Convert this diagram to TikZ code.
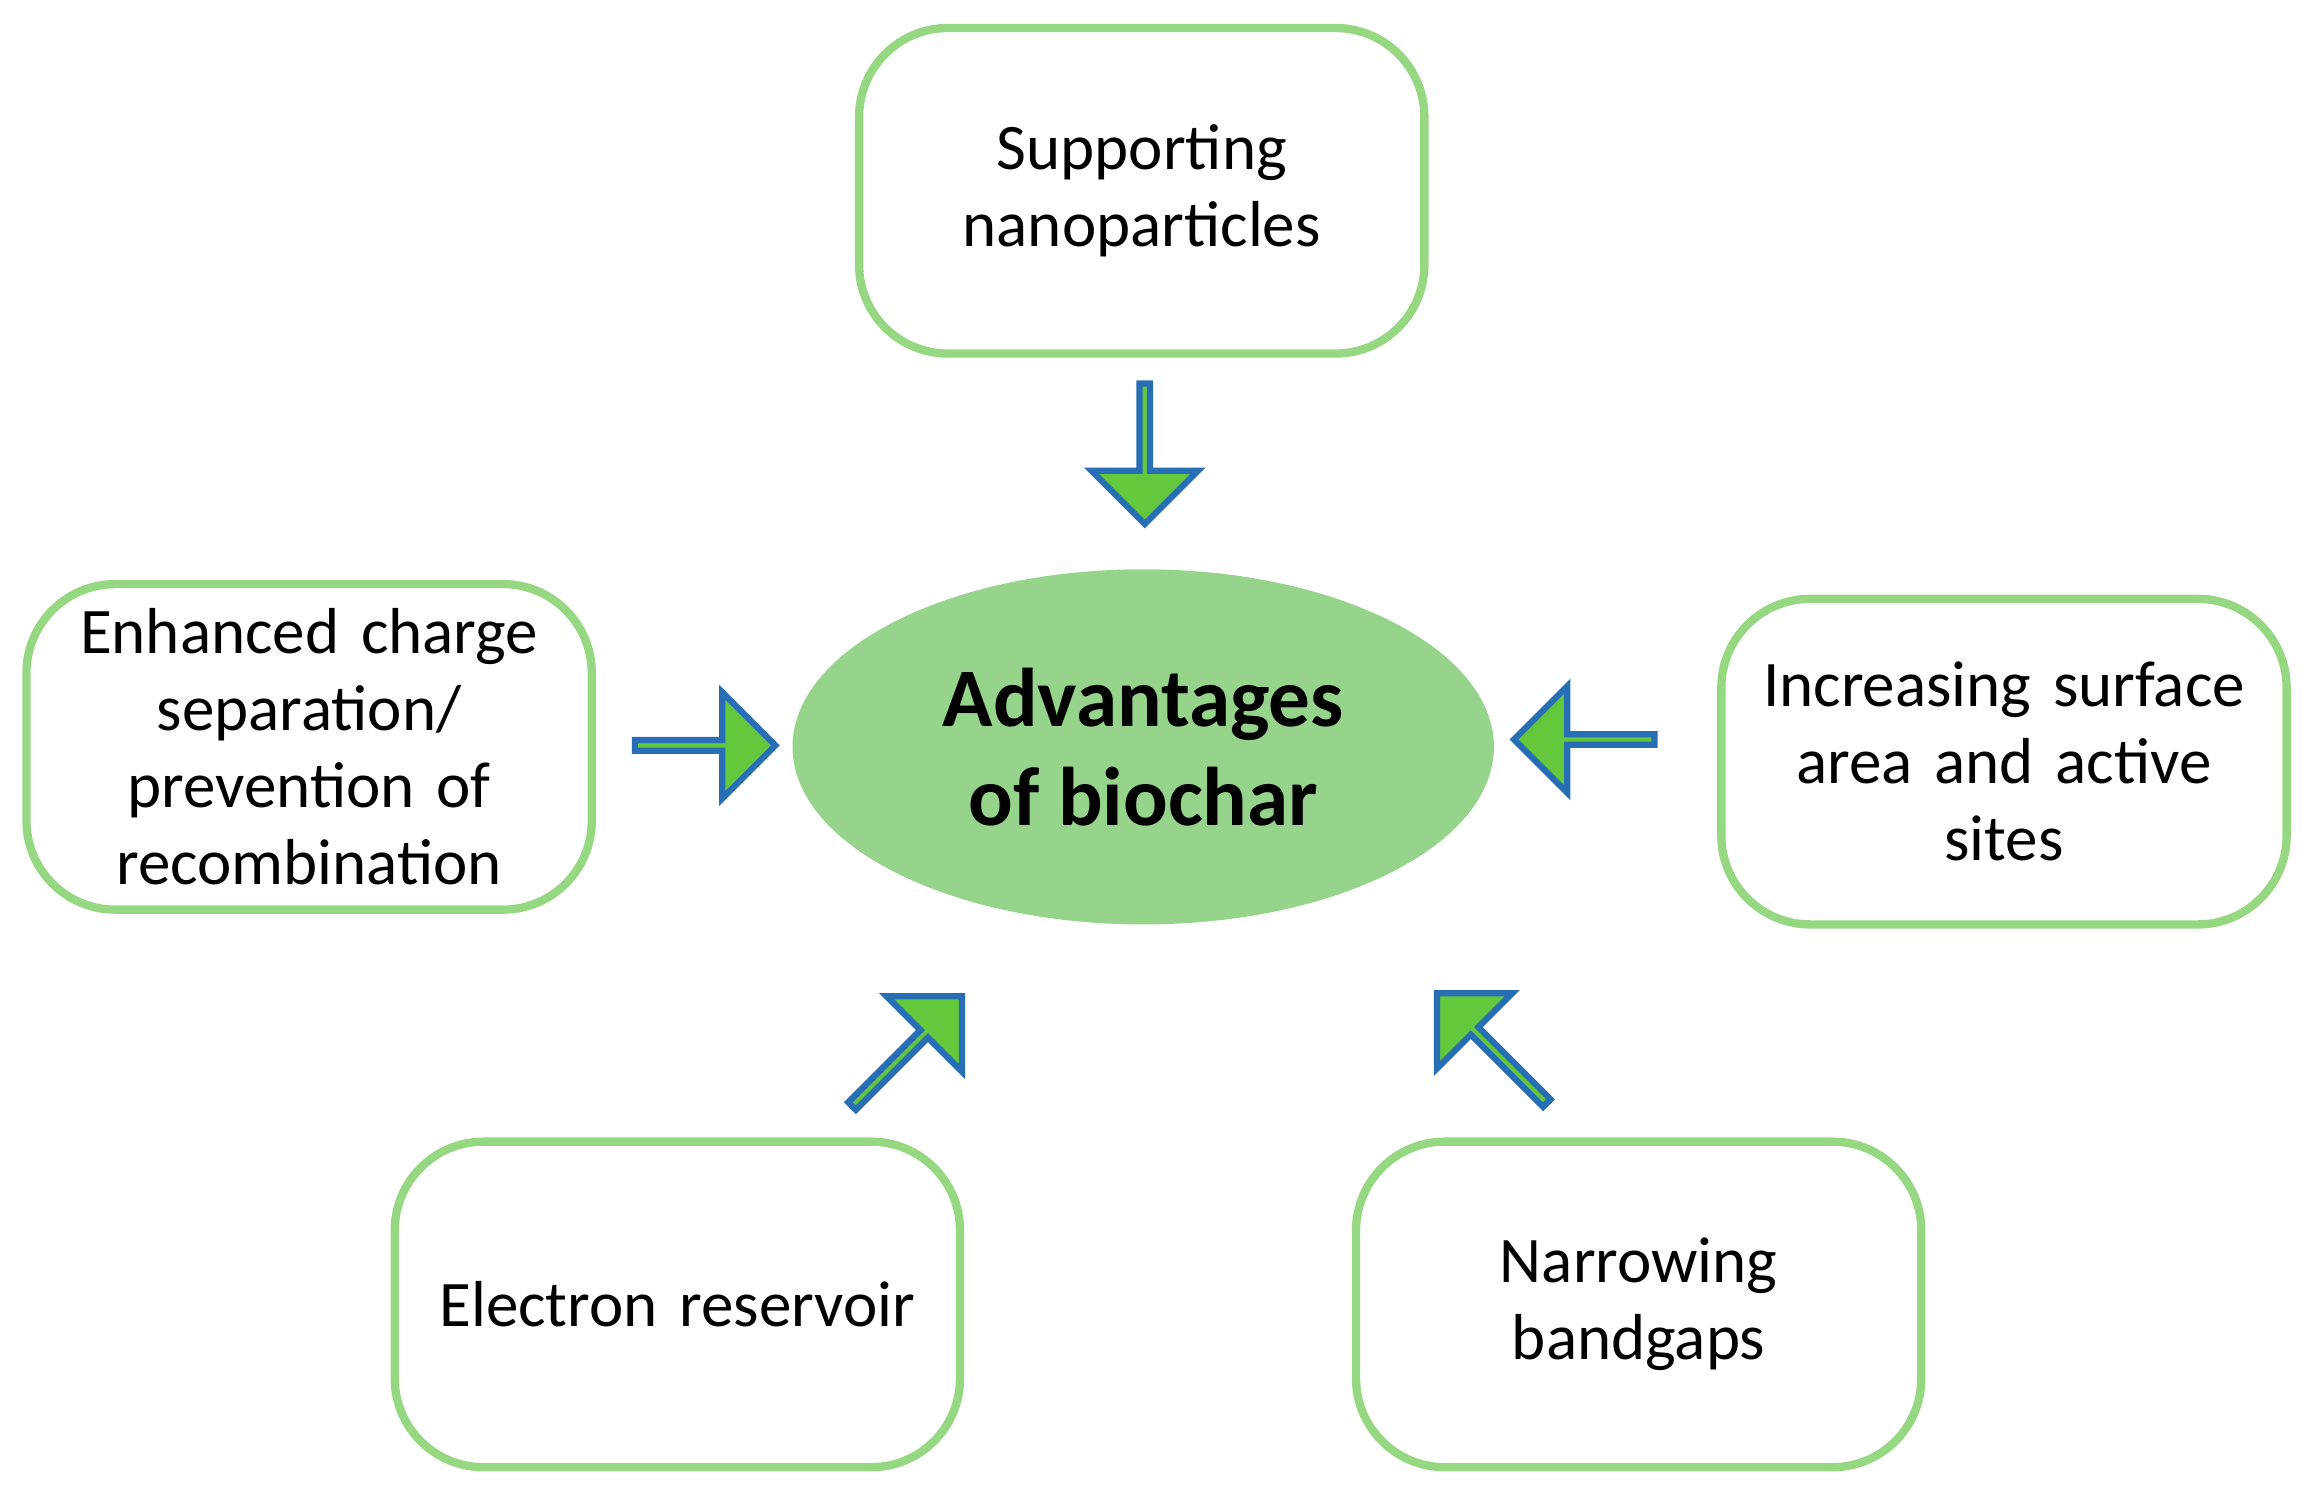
\documentclass[tikz,border=0pt]{standalone}
\usepackage{fontspec}
\setmainfont{Carlito}
\usetikzlibrary{shapes.geometric,shapes.arrows}
\definecolor{boxg}{RGB}{150,215,130}
\definecolor{ellg}{RGB}{150,212,140}
\definecolor{arrg}{RGB}{100,200,60}
\definecolor{arrb}{RGB}{40,110,180}
\begin{document}
\begin{tikzpicture}[x=0.01cm,y=-0.01cm,
  box/.style={draw=boxg,line width=1.6pt,rounded corners=0.6cm,align=center,font=\fontsize{12.5}{14.8}\selectfont,minimum width=3.82cm,minimum height=2.2cm,text width=3.5cm},
  arr/.style={single arrow,draw=arrb,fill=arrg,line width=1.2pt,minimum width=0.72cm,single arrow head extend=0.19cm,inner sep=0pt,minimum height=0.95cm}]
\useasboundingbox (0,0) rectangle (1568,1010);
\node[box] (top) at (772,129) {Supporting\\nanoparticles};
\node[box] (left) at (209,505) {Enhanced charge\\separation/\\prevention of\\recombination};
\node[box] (right) at (1355,515) {Increasing surface\\area and active\\sites};
\node[box] (bl) at (458,882) {Electron reservoir};
\node[box] (br) at (1108,882) {Narrowing\\bandgaps};
\node[ellipse,fill=ellg,minimum width=4.74cm,minimum height=2.4cm,align=center,font=\bfseries\fontsize{16}{19}\selectfont] (c) at (773,505) {Advantages\\of biochar};
\node[arr,rotate=-90] (a1) at (774,305) {};
\node[arr] (a2) at (475,504) {};
\node[arr,rotate=180] (a3) at (1073,500) {};
\node[arr,rotate=45,minimum height=1.05cm] (a4) at (612,712) {};
\node[arr,rotate=135,minimum height=1.05cm] (a5) at (1010,710) {};
\end{tikzpicture}
\end{document}
